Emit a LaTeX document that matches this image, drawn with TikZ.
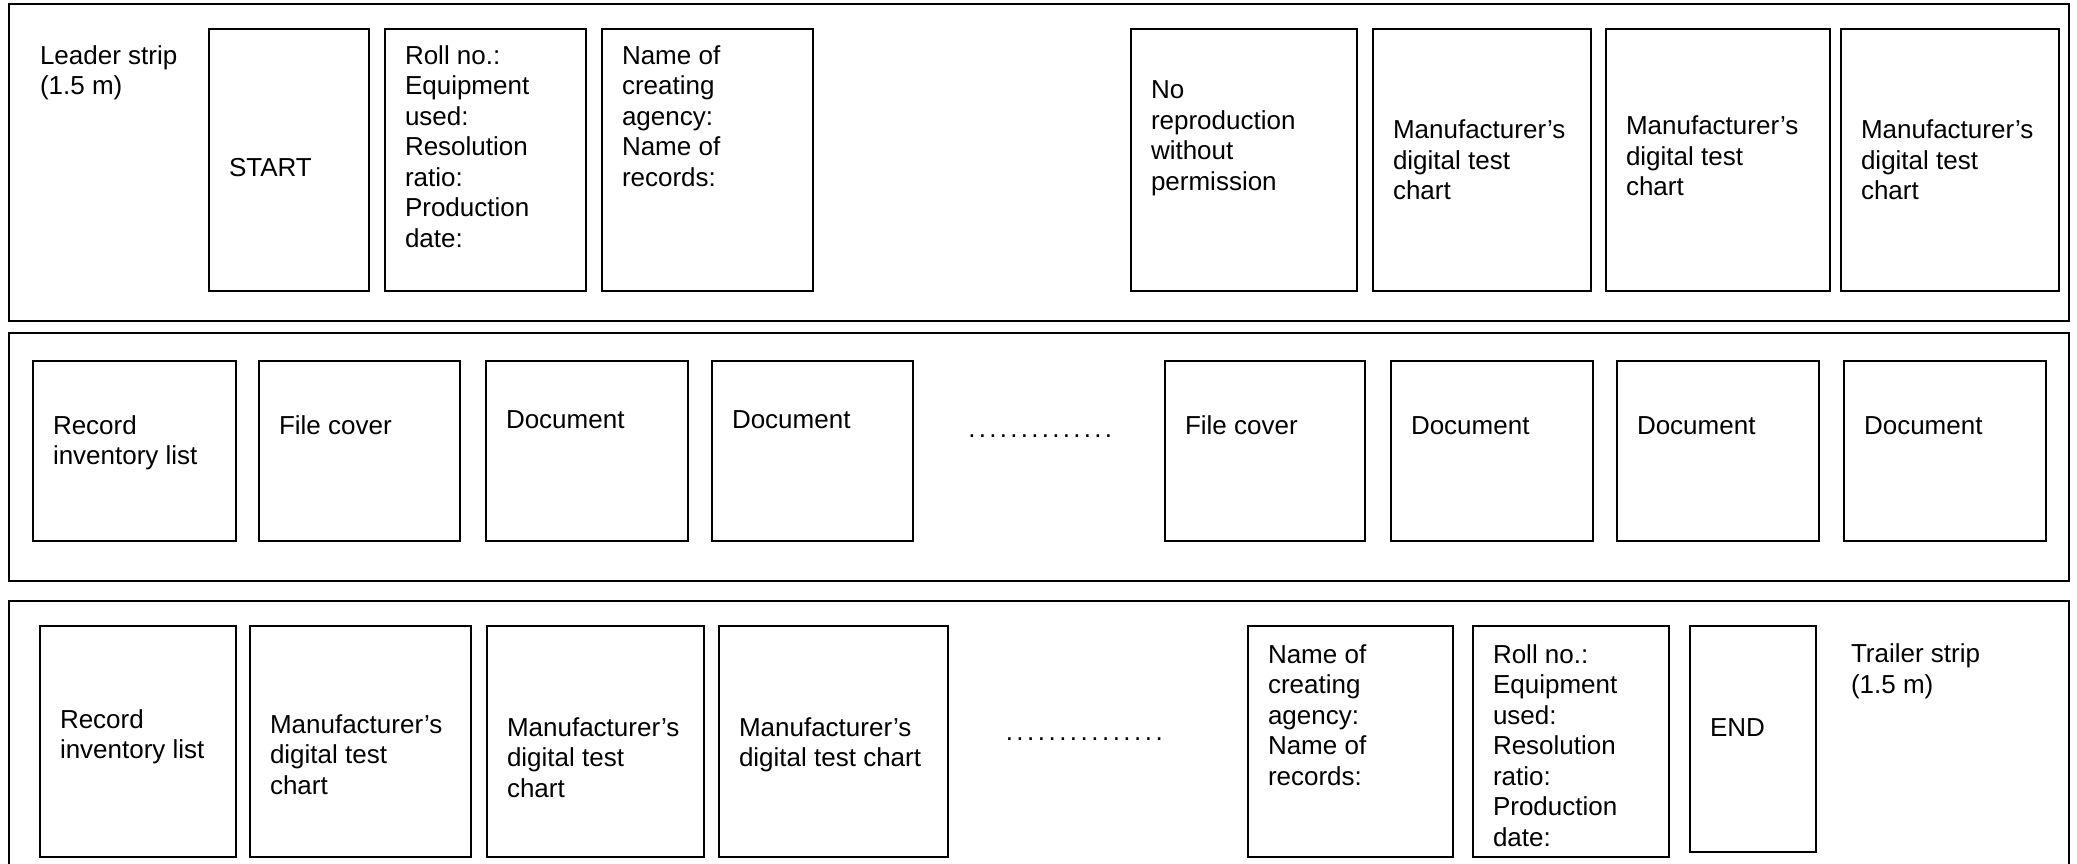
\documentclass[tikz,border=0pt]{standalone}
\usepackage{fontspec}
\setmainfont{Liberation Sans}
\usetikzlibrary{positioning}
\newcommand{\dotfiller}[2]{\hbox to #1{\xleaders\hbox to #2{\hss.\hss}\hfill}}
\newcommand{\rows}[1]{\begin{tabular}[t]{@{}l@{}}#1\end{tabular}}

\begin{document}
\begin{tikzpicture} [
    x=1pt, y=-1pt,
    strip/.style={draw=black, line width=2pt},
    frame/.style={rectangle, draw=black, line width=1.5pt, inner sep=0pt, outer sep=0pt, anchor=north west},
    frame1/.style={frame, minimum height=262pt},
    frame2/.style={frame, minimum height=180pt},
    frame3/.style={frame, minimum height=231pt},
    txt/.style={inner sep=0pt, outer sep=0pt, font=\fontsize{26pt}{30.5pt}\selectfont},
    dots/.style={inner sep=0pt, outer sep=0pt, anchor=base west, font=\fontsize{26pt}{30.5pt}\selectfont}
    ]
    \useasboundingbox (0,0) rectangle (2077,864);
    \clip (0,0) rectangle (2077,864);
    %Strips
    \draw[strip] (9,4) rectangle (2069,321);
    \draw[strip] (9,333) rectangle (2069,581);
    \draw[strip] (9,601) rectangle (2069,900);
    %Pages, first strip
    \node[frame1, minimum width=160pt]                   (start)   at (209,29) {};
    \node[frame1, minimum width=201pt, right=16pt of start]   (roll1)   {};
    \node[frame1, minimum width=211pt, right=16pt of roll1]   (agency1) {};
    \node[frame1, minimum width=226pt, right=318pt of agency1] (norepro) {};
    \node[frame1, minimum width=218pt, right=16pt of norepro] (chartA)  {};
    \node[frame1, minimum width=224pt, right=15pt of chartA]  (chartB)  {};
    \node[frame1, minimum width=218pt, right=11pt of chartB]  (chartC)  {};
    %Pages, second strip
    \node[frame2, minimum width=203pt]                   (list1)   at (33,361) {};
    \node[frame2, minimum width=201pt, right=23pt of list1]   (cover1)  {};
    \node[frame2, minimum width=202pt, right=26pt of cover1]  (docA)    {};
    \node[frame2, minimum width=201pt, right=24pt of docA]    (docB)    {};
    \node[frame2, minimum width=200pt, right=252pt of docB]   (cover2)  {};
    \node[frame2, minimum width=202pt, right=26pt of cover2]  (docC)    {};
    \node[frame2, minimum width=202pt, right=24pt of docC]    (docD)    {};
    \node[frame2, minimum width=202pt, right=25pt of docD]    (docE)    {};
    %Pages, third strip
    \node[frame3, minimum width=196pt]                   (list2)   at (40,626) {};
    \node[frame3, minimum width=221pt, right=14pt of list2]   (chart1)  {};
    \node[frame3, minimum width=217pt, right=16pt of chart1]  (chart2)  {};
    \node[frame3, minimum width=229pt, right=15pt of chart2]  (chart3)  {};
    \node[frame3, minimum width=205pt, right=300pt of chart3] (agency2) {};
    \node[frame3, minimum width=196pt, right=20pt of agency2] (roll2)   {};
    \node[frame, minimum width=126pt, minimum height=226pt, right=21pt of roll2.north east, anchor=north west] (endbox) {};
    %Texts, first strip
    \node[txt, anchor=base west] (leader) at (40,64.3) {\rows{Leader strip\\(1.5 m)}};
    \node[txt, below right=147pt and 20pt of start.north west, anchor=base west]   (t-start)   {START};
    \node[txt, below right=35.5pt and 20pt of roll1.north west, anchor=base west]  (t-roll1)   {\rows{Roll no.:\\Equipment\\used:\\Resolution\\ratio:\\Production\\date:}};
    \node[txt, below right=35.5pt and 20pt of agency1.north west, anchor=base west] (t-agency1) {\rows{Name of\\creating\\agency:\\Name of\\records:}};
    \node[txt, below right=70pt and 20pt of norepro.north west, anchor=base west]  (t-norepro) {\rows{No\\reproduction\\without\\permission}};
    \node[txt, below right=110pt and 20pt of chartA.north west, anchor=base west]  (t-chartA)  {\rows{Manufacturer’s\\digital test\\chart}};
    \node[txt, below right=106pt and 20pt of chartB.north west, anchor=base west]  (t-chartB)  {\rows{Manufacturer’s\\digital test\\chart}};
    \node[txt, below right=110pt and 20pt of chartC.north west, anchor=base west]  (t-chartC)  {\rows{Manufacturer’s\\digital test\\chart}};
    %Texts, second strip
    \node[txt, below right=73pt and 20pt of list1.north west, anchor=base west]    (t-list1)   {\rows{Record\\inventory list}};
    \node[txt, below right=73pt and 20pt of cover1.north west, anchor=base west]   (t-cover1)  {File cover};
    \node[txt, below right=67pt and 20pt of docA.north west, anchor=base west]     (t-docA)    {Document};
    \node[txt, below right=67pt and 20pt of docB.north west, anchor=base west]     (t-docB)    {Document};
    \node[dots] (gap1) at (966.7,437) {\dotfiller{147pt}{10.5pt}};
    \node[txt, below right=73pt and 20pt of cover2.north west, anchor=base west]   (t-cover2)  {File cover};
    \node[txt, below right=73pt and 20pt of docC.north west, anchor=base west]     (t-docC)    {Document};
    \node[txt, below right=73pt and 20pt of docD.north west, anchor=base west]     (t-docD)    {Document};
    \node[txt, below right=73pt and 20pt of docE.north west, anchor=base west]     (t-docE)    {Document};
    %Texts, third strip
    \node[txt, below right=102pt and 20pt of list2.north west, anchor=base west]   (t-list2)   {\rows{Record\\inventory list}};
    \node[txt, below right=107pt and 20pt of chart1.north west, anchor=base west]  (t-chart1)  {\rows{Manufacturer’s\\digital test\\chart}};
    \node[txt, below right=110pt and 20pt of chart2.north west, anchor=base west]  (t-chart2)  {\rows{Manufacturer’s\\digital test\\chart}};
    \node[txt, below right=110pt and 20pt of chart3.north west, anchor=base west]  (t-chart3)  {\rows{Manufacturer’s\\digital test chart}};
    \node[dots] (gap2) at (1004,740) {\dotfiller{160.5pt}{10.7pt}};
    \node[txt, below right=37pt and 20pt of agency2.north west, anchor=base west]  (t-agency2) {\rows{Name of\\creating\\agency:\\Name of\\records:}};
    \node[txt, below right=37pt and 20pt of roll2.north west, anchor=base west]    (t-roll2)   {\rows{Roll no.:\\Equipment\\used:\\Resolution\\ratio:\\Production\\date:}};
    \node[txt, below right=110pt and 20pt of endbox.north west, anchor=base west]  (t-end)     {END};
    \node[txt, anchor=base west] (trailer) at (1851,662.5) {\rows{Trailer strip\\(1.5 m)}};
\end{tikzpicture}
\end{document}
